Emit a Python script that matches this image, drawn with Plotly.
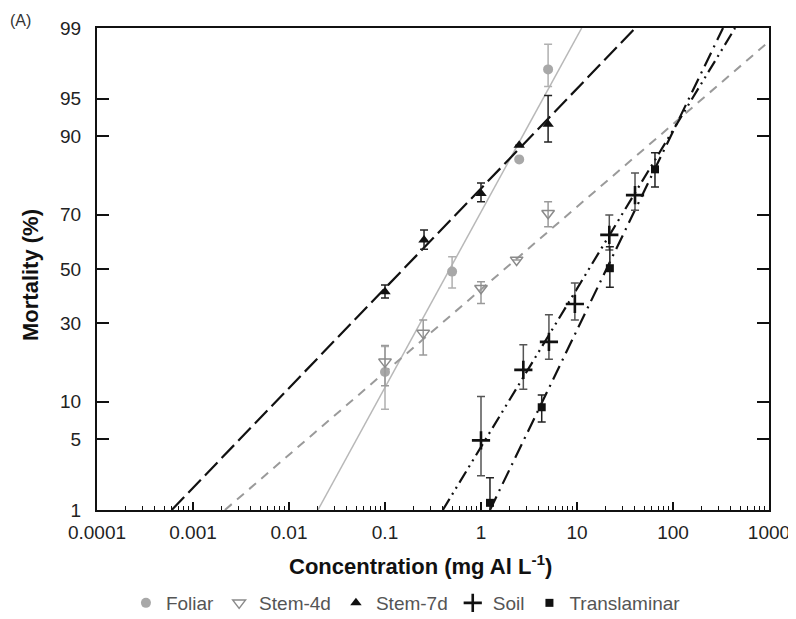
import plotly.graph_objects as go
from statistics import NormalDist

_nd = NormalDist()


def probit(p):
    return _nd.inv_cdf(p / 100.0)


# ---------------- data ----------------
series_names = ["Foliar", "Stem-4d", "Stem-7d", "Soil", "Translaminar"]

foliar_conc = [0.1, 0.5, 2.5, 5.0]
foliar_mort = [16.0, 49.0, 85.5, 97.3]
foliar_hi = [22.7, 54.7, 85.5, 98.5]
foliar_lo = [8.8, 42.7, 85.5, 96.1]

stem4d_conc = [0.1, 0.25, 1.0, 2.35, 5.0]
stem4d_mort = [18.5, 26.8, 42.6, 53.5, 70.5]
stem4d_hi = [23.0, 31.1, 45.1, 53.5, 74.2]
stem4d_lo = [13.0, 20.3, 37.0, 53.5, 65.8]

stem7d_conc = [0.1, 0.255, 1.0, 2.5, 5.0]
stem7d_mort = [41.3, 61.0, 76.7, 88.4, 91.9]
stem7d_hi = [43.9, 64.7, 79.7, 88.4, 95.3]
stem7d_lo = [39.0, 57.6, 74.2, 88.4, 89.0]

soil_conc = [1.0, 2.76, 5.1, 9.5, 21.7, 40.2]
soil_mort = [4.9, 16.5, 24.1, 36.8, 62.9, 76.2]
soil_hi = [10.9, 23.2, 32.9, 44.6, 69.9, 82.3]
soil_lo = [2.3, 12.3, 19.2, 31.1, 57.3, 71.5]

trans_conc = [1.24, 4.29, 22.0, 64.9]
trans_mort = [1.2, 9.1, 50.3, 83.2]
trans_hi = [2.2, 11.2, 58.5, 86.9]
trans_lo = [0.8, 7.0, 43.0, 78.6]

# fitted probit lines: concentration giving 1 % and 99 % mortality
fit_lc01 = [0.020, 0.00215, 0.0006, 0.40, 1.24]
fit_lc99 = [11.2, 1455.0, 40.5, 443.0, 332.0]

y_tick_pct = [1, 5, 10, 30, 50, 70, 90, 95, 99]
x_tick_vals = [0.0001, 0.001, 0.01, 0.1, 1, 10, 100, 1000]
x_tick_text = ["0.0001", "0.001", "0.01", "0.1", "1", "10", "100", "1000"]

# ---------------- styles ----------------
FONT = "Liberation Sans, Arial, sans-serif"
styles = [
    dict(marker=dict(symbol="circle", size=10, color="#a8a8a8"),
         line=dict(color="#b8b8b8", width=1.5, dash="solid"), err="#b0b0b0"),
    dict(marker=dict(symbol="triangle-down-open", size=11, color="#8a8a8a",
                     line=dict(width=1.5, color="#8a8a8a")),
         line=dict(color="#9a9a9a", width=2, dash="9px,7px"), err="#9a9a9a"),
    dict(marker=dict(symbol="triangle-up", size=10, color="#111111"),
         line=dict(color="#111111", width=2.2, dash="18px,6px"), err="#222222"),
    dict(marker=dict(symbol="cross-thin", size=13, color="#111111",
                     line=dict(width=2.6, color="#111111")),
         line=dict(color="#111111", width=2.2, dash="13px,5px,2px,5px,2px,5px"),
         err="#555555"),
    dict(marker=dict(symbol="square", size=8, color="#111111"),
         line=dict(color="#111111", width=2.2, dash="15px,6px,2px,6px"),
         err="#222222"),
]

datasets = [
    (foliar_conc, foliar_mort, foliar_hi, foliar_lo),
    (stem4d_conc, stem4d_mort, stem4d_hi, stem4d_lo),
    (stem7d_conc, stem7d_mort, stem7d_hi, stem7d_lo),
    (soil_conc, soil_mort, soil_hi, soil_lo),
    (trans_conc, trans_mort, trans_hi, trans_lo),
]

fig = go.Figure()

# fitted lines (no legend)
for i, name in enumerate(series_names):
    fig.add_trace(go.Scatter(
        x=[fit_lc01[i], fit_lc99[i]],
        y=[probit(1), probit(99)],
        mode="lines", line=styles[i]["line"],
        showlegend=False, hoverinfo="skip"))

# observed points with error bars
for i, name in enumerate(series_names):
    conc, mort, hi, lo = datasets[i]
    yv = [probit(m) for m in mort]
    up = [probit(h) - probit(m) for h, m in zip(hi, mort)]
    dn = [probit(m) - probit(l) for l, m in zip(lo, mort)]
    fig.add_trace(go.Scatter(
        x=conc, y=yv, mode="markers", name=name,
        marker=styles[i]["marker"],
        error_y=dict(type="data", symmetric=False, array=up, arrayminus=dn,
                     color=styles[i]["err"], thickness=1.5, width=4),
        cliponaxis=False))

minor_vals = [m * 10 ** e for e in range(-4, 3) for m in range(2, 10)]

fig.update_xaxes(
    type="log", range=[-4, 3], automargin=False,
    tickvals=x_tick_vals, ticktext=x_tick_text,
    ticks="inside", ticklen=8, tickwidth=1.5, tickcolor="#111",
    minor=dict(tickvals=minor_vals, ticks="inside", ticklen=4,
               tickwidth=1.2, tickcolor="#111", showgrid=False),
    showline=True, linewidth=2, linecolor="#111", mirror=True,
    showgrid=False, zeroline=False, ticklabelstandoff=4,
    tickfont=dict(family=FONT, size=19, color="#222"),
)
fig.update_yaxes(
    range=[probit(1), probit(99)], automargin=False,
    tickvals=[probit(p) for p in y_tick_pct],
    ticktext=[str(p) for p in y_tick_pct],
    ticks="inside", ticklen=12, tickwidth=2, tickcolor="#111",
    showline=True, linewidth=2, linecolor="#111", mirror="ticks",
    showgrid=False, zeroline=False, ticklabelstandoff=10,
    tickfont=dict(family=FONT, size=19, color="#222"),
)

# page body adds an 8 px margin, so the figure is 8 px smaller and
# every position below is measured in the reference minus 8 px.
fig.update_layout(
    width=788, height=611,
    margin=dict(l=89, r=27, t=20, b=109),
    paper_bgcolor="white", plot_bgcolor="white",
    font=dict(family=FONT, color="#222"),
    legend=dict(orientation="h", xref="container", x=0.505, xanchor="center",
                yref="container", y=16 / 611, yanchor="middle",
                font=dict(family=FONT, size=19, color="#555"),
                itemwidth=30, tracegroupgap=0),
    annotations=[
        dict(text="(A)", xref="paper", yref="paper",
             x=(8 - 97) / 672, y=(510 - 20) / 482,
             xanchor="left", yanchor="middle", showarrow=False,
             font=dict(family=FONT, size=16, color="#333")),
        dict(text="<b>Concentration (mg Al L<sup>-1</sup>)</b>",
             xref="paper", yref="paper",
             x=(420 - 97) / 672, y=(510 - 565) / 482,
             xanchor="center", yanchor="middle", showarrow=False,
             font=dict(family=FONT, size=22, color="#111")),
        dict(text="<b>Mortality (%)</b>", textangle=-90,
             xref="paper", yref="paper",
             x=(30 - 97) / 672, y=(510 - 275) / 482,
             xanchor="center", yanchor="middle", showarrow=False,
             font=dict(family=FONT, size=22, color="#111")),
    ],
)

fig.write_html("out.html")
